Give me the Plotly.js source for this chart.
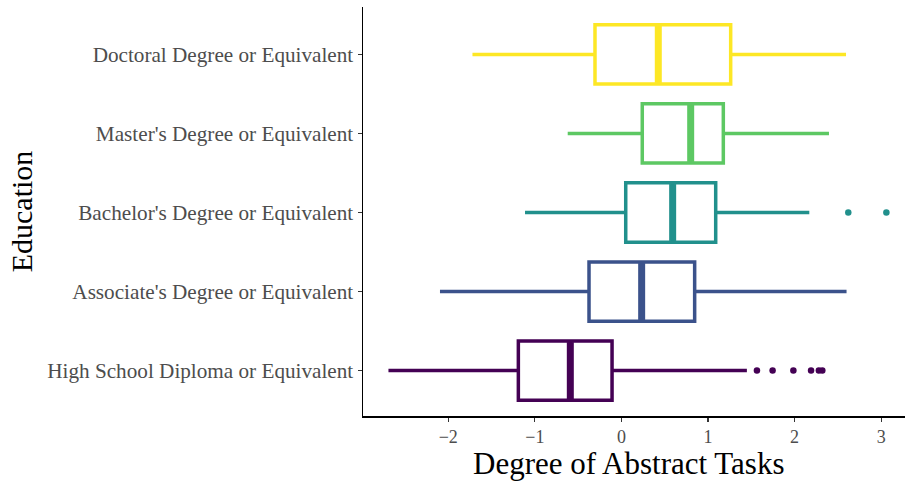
<!DOCTYPE html>
<html>
<head>
<meta charset="utf-8">
<script src="https://cdn.plot.ly/plotly-3.0.1.min.js"></script>
<style>html,body{margin:0;padding:0;background:#fff;}#chart{width:905px;height:481px;}</style>
</head>
<body>
<div id="chart"></div>
<script>
const categories = ["High School Diploma or Equivalent", "Associate's Degree or Equivalent", "Bachelor's Degree or Equivalent", "Master's Degree or Equivalent", "Doctoral Degree or Equivalent"];
const colors = ["#440154", "#3B528B", "#21908C", "#5DC863", "#FDE725"];
const lowerWhisker = [-2.69, -2.095, -1.113, -0.62, -1.72];
const q1 = [-1.19, -0.374, 0.05, 0.241, -0.305];
const median = [-0.59, 0.234, 0.592, 0.80, 0.426];
const q3 = [-0.108, 0.846, 1.089, 1.177, 1.262];
const upperWhisker = [1.449, 2.60, 2.17, 2.397, 2.594];
const outliers = [
  [1.565, 1.746, 1.986, 2.19, 2.28, 2.32],
  [],
  [2.62, 3.06],
  [],
  []
];
const xTicks = [-2, -1, 0, 1, 2, 3];
const xTickText = ["\u22122", "\u22121", "0", "1", "2", "3"];
const xTitle = "Degree of Abstract Tasks";
const yTitle = "Education";

const traces = [];
const shapes = [];
categories.forEach((c, i) => {
  traces.push({
    type: 'box', orientation: 'h',
    y: [c], q1: [q1[i]], median: [median[i]], q3: [q3[i]],
    lowerfence: [lowerWhisker[i]], upperfence: [upperWhisker[i]],
    width: 0.75, whiskerwidth: 0, boxpoints: false,
    line: {color: colors[i], width: 3.5},
    fillcolor: 'white', hoverinfo: 'skip', showlegend: false
  });
  if (outliers[i].length) {
    traces.push({
      type: 'scatter', mode: 'markers',
      x: outliers[i], y: outliers[i].map(() => c),
      marker: {color: colors[i], size: 6.5},
      hoverinfo: 'skip', showlegend: false
    });
  }
  shapes.push({
    type: 'line', xref: 'x', yref: 'y',
    x0: median[i], x1: median[i], y0: i - 0.36, y1: i + 0.36,
    line: {color: colors[i], width: 7}
  });
});

const layout = {
  width: 905, height: 481,
  margin: {l: 363, r: 0, t: 7, b: 65},
  paper_bgcolor: 'white', plot_bgcolor: 'white',
  font: {family: 'Liberation Serif', color: '#4D4D4D'},
  showlegend: false,
  hovermode: false,
  shapes: shapes,
  annotations: [{
    text: xTitle, xref: 'paper', yref: 'paper', x: 0.489, y: -0.115,
    xanchor: 'center', yanchor: 'middle', showarrow: false,
    font: {family: 'Liberation Serif', size: 31, color: '#000'}
  }],
  xaxis: {
    range: [-2.984, 3.275],
    tickvals: xTicks, ticktext: xTickText,
    showgrid: false, zeroline: false,
    showline: true, linecolor: '#000', linewidth: 1.5,
    ticks: 'outside', ticklen: 4, tickcolor: '#333', tickwidth: 1.2,
    tickfont: {family: 'Liberation Serif', size: 18, color: '#4D4D4D'}
  },
  yaxis: {
    type: 'category', categoryorder: 'array', categoryarray: categories,
    range: [-0.575, 4.6],
    showgrid: false, zeroline: false,
    showline: true, linecolor: '#000', linewidth: 1.5,
    ticks: 'outside', ticklen: 4, tickcolor: '#333', tickwidth: 1.2,
    tickfont: {family: 'Liberation Serif', size: 21.2, color: '#4D4D4D'},
    title: {text: yTitle, font: {family: 'Liberation Serif', size: 30, color: '#000'}, standoff: 6}
  }
};

Plotly.newPlot('chart', traces, layout, {displayModeBar: false, staticPlot: true});
</script>
</body>
</html>
